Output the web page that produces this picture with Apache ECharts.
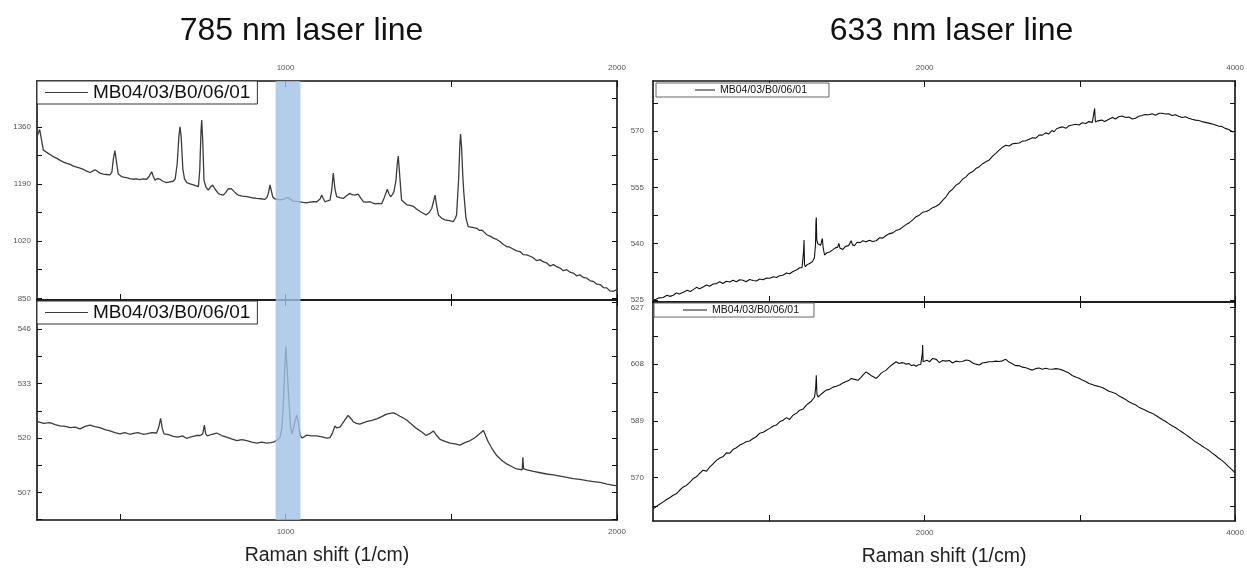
<!DOCTYPE html>
<html>
<head>
<meta charset="utf-8">
<script src="https://cdn.jsdelivr.net/npm/echarts@6/dist/echarts.min.js"></script>
<style>
html,body{margin:0;padding:0;background:#fff;}
#chart{width:1247px;height:568px;}
</style>
</head>
<body>
<div id="chart"></div>
<script>
// ---------------- DATA ----------------
const seriesName = 'MB04/03/B0/06/01';
const titles = ['785 nm laser line', '633 nm laser line'];
const xTitle = 'Raman shift (1/cm)';

// 785 nm, upper spectrum  [Raman shift, intensity]
const spec785a = [[252,1335],[258,1352],[263,1348],[269,1291],[276,1286],[284,1281],[292,1276],[299,1271],[310,1266],[320,1260],[330,1255],[340,1251],[350,1248],[360,1243],[370,1240],[380,1237],[390,1233],[400,1228],[410,1224],[418,1228],[425,1232],[432,1228],[440,1222],[450,1219],[460,1218],[470,1217],[476,1225],[480,1262],[485,1289],[490,1255],[495,1220],[502,1214],[510,1210],[520,1209],[530,1206],[540,1204],[550,1205],[560,1203],[570,1205],[581,1204],[588,1212],[596,1226],[601,1212],[606,1201],[613,1206],[621,1204],[630,1198],[641,1194],[651,1196],[661,1198],[667,1205],[673,1250],[678,1330],[681.5,1360],[685,1330],[690,1235],[695,1205],[702,1194],[712,1190],[722,1187],[730,1184],[737,1182],[741,1230],[745,1350],[747,1380],[750,1320],[754,1200],[760,1180],[767,1172],[773,1180],[780,1187],[787,1175],[797,1162],[805,1158],[812,1157],[820,1165],[826,1175],[830,1180],[836,1176],[842,1170],[850,1162],[857,1157],[870,1154],[883,1152],[898,1149],[913,1147],[925,1146],[938,1144],[944,1150],[948,1162],[953,1187],[957,1170],[961,1152],[967,1146],[973,1142],[983,1143],[993,1144],[1000,1147],[1008,1150],[1015,1144],[1023,1139],[1033,1138],[1043,1137],[1053,1135],[1063,1134],[1073,1136],[1084,1137],[1094,1137],[1099,1135],[1104,1145],[1109,1157],[1114,1146],[1119,1137],[1127,1140],[1134,1142],[1139,1170],[1144,1222],[1149,1175],[1154,1152],[1164,1149],[1174,1147],[1184,1155],[1194,1162],[1201,1158],[1209,1157],[1214,1161],[1219,1160],[1227,1148],[1235,1137],[1245,1136],[1255,1137],[1262,1134],[1270,1131],[1280,1132],[1290,1131],[1298,1150],[1307,1174],[1312,1160],[1317,1152],[1322,1158],[1327,1167],[1333,1200],[1337,1250],[1340,1273],[1344,1220],[1350,1142],[1358,1135],[1366,1128],[1376,1126],[1386,1123],[1396,1115],[1406,1108],[1415,1103],[1424,1098],[1433,1105],[1441,1117],[1447,1140],[1451,1157],[1456,1125],[1461,1098],[1471,1088],[1481,1083],[1494,1081],[1506,1078],[1512,1088],[1516,1098],[1522,1200],[1526,1310],[1528,1338],[1531,1300],[1535,1210],[1538,1162],[1544,1090],[1551,1063],[1564,1061],[1577,1058],[1584,1052],[1592,1053],[1600,1046],[1607,1039],[1617,1035],[1627,1029],[1637,1025],[1647,1019],[1657,1010],[1667,1004],[1677,1002],[1687,996],[1697,991],[1707,989],[1717,980],[1728,979],[1738,975],[1748,970],[1758,962],[1768,965],[1778,958],[1788,955],[1798,946],[1808,950],[1818,944],[1828,940],[1838,932],[1848,935],[1858,928],[1868,925],[1878,917],[1888,920],[1898,912],[1909,910],[1919,902],[1929,900],[1939,892],[1949,891],[1959,882],[1969,881],[1979,872],[1989,871],[1995,868],[2000,876]];

// 785 nm, lower spectrum
const spec785b = [[252,523.9],[270,523.5],[289,523.7],[305,523.2],[319,522.9],[335,522.8],[350,522.5],[365,522.6],[380,522.2],[395,522.8],[410,523.1],[425,522.7],[440,522.5],[455,522.0],[470,521.7],[485,521.3],[500,521.0],[515,521.3],[530,520.9],[541,521.1],[555,521.3],[570,520.9],[581,521.0],[596,521.3],[611,521.2],[617,522.5],[623,524.7],[628,522.3],[633,521.0],[647,520.8],[661,520.4],[675,520.2],[689,520.5],[702,519.9],[715,520.3],[730,520.6],[742,520.6],[750,521.0],[755,523.1],[759,521.0],[764,520.5],[778,520.9],[792,521.2],[807,520.6],[822,520.2],[837,519.8],[853,519.4],[868,519.6],[883,519.4],[898,519.0],[913,518.8],[928,519.0],[943,518.8],[955,518.9],[963,519.0],[975,519.5],[983,520.1],[989,522.5],[993,527.7],[997,536],[1001,541.9],[1005,536],[1011,527.7],[1015,522.8],[1019,521.0],[1023,522.1],[1029,524.2],[1034,525.5],[1039,523.5],[1044,520.6],[1050,520.0],[1064,520.7],[1079,520.5],[1094,520.5],[1110,520.3],[1124,520.0],[1134,520.1],[1142,521.3],[1149,522.9],[1154,522.4],[1159,522.3],[1164,522.6],[1169,522.9],[1176,524.0],[1184,524.9],[1189,525.4],[1194,525.2],[1199,524.5],[1204,523.9],[1214,523.5],[1224,523.3],[1234,523.6],[1244,523.9],[1260,524.2],[1275,524.6],[1290,525.1],[1305,525.7],[1315,525.9],[1325,526.0],[1335,525.7],[1345,525.2],[1355,524.8],[1365,524.3],[1380,523.3],[1395,522.3],[1410,521.5],[1424,520.6],[1436,521.1],[1446,521.7],[1456,520.6],[1466,519.7],[1481,519.2],[1496,518.8],[1511,518.6],[1526,518.3],[1541,518.9],[1557,519.4],[1570,520.0],[1582,520.8],[1590,521.3],[1597,521.8],[1604,520.5],[1612,519.0],[1625,517.2],[1637,515.8],[1652,514.7],[1667,513.8],[1682,513.2],[1697,512.6],[1707,512.5],[1714,512.4],[1716,515.4],[1718,512.7],[1728,512.4],[1748,512.0],[1768,511.7],[1788,511.4],[1808,511.2],[1828,510.9],[1848,510.6],[1868,510.3],[1888,510.1],[1909,509.8],[1929,509.6],[1949,509.4],[1970,509.0],[1994,508.6],[2000,508.7]];

// 633 nm, upper spectrum
const spec633a = [[252,525.0],[269,525.2],[290,525.6],[316,525.7],[340,526.3],[360,526.0],[380,526.3],[400,526.9],[420,526.6],[445,527.1],[470,527.6],[490,527.3],[509,527.8],[530,528.4],[550,528.0],[573,528.5],[595,529.0],[615,528.7],[637,529.3],[659,529.4],[680,529.9],[700,529.4],[722,530.0],[745,529.8],[765,530.3],[787,529.9],[808,530.4],[830,530.3],[850,529.9],[872,530.5],[895,530.2],[916,530.1],[938,530.6],[960,530.4],[980,530.9],[1002,530.8],[1025,531.2],[1045,531.0],[1065,531.5],[1087,531.6],[1110,532.2],[1130,532.0],[1152,532.6],[1174,533.0],[1195,533.6],[1210,533.6],[1216,533.9],[1220,538],[1223,541.0],[1226,534.5],[1232,533.9],[1245,534.5],[1262,534.8],[1276,535.2],[1290,536.2],[1297,540],[1300,546],[1302,547.0],[1305,541],[1312,540.0],[1318,539.5],[1323,539.9],[1330,539.6],[1336,540],[1341,541.4],[1346,539],[1355,537.0],[1370,537.6],[1388,537.8],[1405,538.3],[1425,538.9],[1440,539.1],[1447,540.1],[1455,538.8],[1473,538.5],[1490,539.3],[1510,539.5],[1520,539.8],[1527,540.8],[1535,539.7],[1548,539.5],[1565,540.4],[1585,540.3],[1602,540.8],[1620,540.5],[1645,540.9],[1665,540.6],[1688,540.8],[1710,541.6],[1730,541.5],[1752,542.2],[1774,542.7],[1795,542.9],[1815,543.5],[1838,543.8],[1860,544.5],[1880,545.1],[1902,545.6],[1925,546.4],[1945,547.2],[1965,547.6],[1988,548.4],[2010,548.6],[2031,549.0],[2052,549.6],[2074,550.0],[2094,550.5],[2117,551.6],[2138,552.5],[2159,553.8],[2180,554.5],[2202,555.6],[2223,556.1],[2245,557.2],[2266,557.8],[2287,558.7],[2310,559.2],[2330,560.0],[2352,560.5],[2374,561.3],[2395,561.8],[2416,562.3],[2438,563.3],[2460,564.1],[2480,564.9],[2502,565.7],[2523,566.2],[2545,566.0],[2566,566.6],[2587,566.7],[2610,566.8],[2630,567.3],[2651,567.4],[2673,567.8],[2695,568.2],[2716,568.1],[2738,568.9],[2758,568.9],[2780,569.5],[2800,569.2],[2820,570.1],[2834,569.8],[2850,570.6],[2870,570.9],[2887,571.1],[2910,570.7],[2930,571.4],[2952,571.6],[2973,571.8],[2995,571.6],[3015,572.2],[3038,572.0],[3058,572.5],[3080,572.3],[3090,572.6],[3095,576.0],[3100,572.4],[3116,572.7],[3140,572.9],[3160,572.5],[3187,573.1],[3210,573.6],[3230,573.2],[3250,573.8],[3272,574.0],[3295,573.6],[3315,573.7],[3338,573.2],[3358,573.4],[3380,573.9],[3400,574.1],[3420,574.4],[3444,574.3],[3465,574.6],[3488,574.2],[3510,574.7],[3529,574.7],[3550,574.5],[3572,574.6],[3594,574.1],[3615,574.3],[3635,573.9],[3658,573.6],[3680,573.8],[3701,573.4],[3722,573.1],[3745,572.9],[3765,572.8],[3786,572.5],[3808,572.3],[3830,572.1],[3850,571.9],[3872,571.6],[3893,571.3],[3915,571.2],[3936,570.7],[3960,570.4],[3983,569.8],[4000,569.9]];

// 633 nm, lower spectrum
const spec633b = [[252,559.6],[270,560.3],[290,561.0],[316,561.9],[335,562.6],[355,563.2],[380,564.1],[400,564.6],[420,565.7],[445,566.9],[465,567.4],[488,568.5],[509,569.7],[530,570.3],[550,571.4],[573,572.5],[595,572.2],[615,573.5],[637,574.6],[659,575.8],[680,576.6],[700,577.0],[723,578.3],[745,578.2],[765,579.4],[787,580.0],[809,580.9],[830,581.4],[850,582.0],[872,582.3],[895,583.1],[915,583.7],[938,584.9],[960,585.2],[981,585.9],[1002,586.5],[1025,587.3],[1045,587.6],[1066,588.7],[1087,589.2],[1110,590.1],[1130,589.5],[1152,590.9],[1175,591.6],[1195,592.6],[1218,593.0],[1238,594.3],[1255,595.0],[1270,595.6],[1291,597.0],[1298,600],[1302,604.3],[1306,598],[1313,597.0],[1330,597.8],[1348,598.6],[1366,599.3],[1388,599.6],[1410,600.3],[1430,600.6],[1452,601.0],[1470,601.6],[1490,602.1],[1510,602.5],[1527,603.2],[1550,602.9],[1570,602.6],[1590,603.6],[1605,604.5],[1623,605.4],[1640,604.8],[1660,604.0],[1675,603.6],[1688,603.2],[1705,604.1],[1720,605.0],[1735,605.5],[1752,606.0],[1770,606.9],[1790,607.8],[1800,608.3],[1816,608.8],[1835,608.2],[1850,608.5],[1866,608.4],[1881,608.0],[1900,608.2],[1915,607.5],[1930,607.8],[1945,607.3],[1960,607.8],[1975,607.9],[1983,608.0],[1985,611.5],[1987,614.4],[1990,608.8],[1998,608.8],[2015,609.3],[2031,608.8],[2052,609.9],[2075,609.6],[2094,608.5],[2116,609.2],[2135,609.0],[2159,609.2],[2180,608.4],[2200,609.0],[2223,608.8],[2245,608.9],[2265,609.4],[2287,609.2],[2310,608.4],[2330,608.0],[2352,607.7],[2372,608.4],[2395,608.6],[2415,608.8],[2437,608.8],[2458,609.0],[2480,608.9],[2500,609.1],[2523,609.6],[2545,608.6],[2565,608.1],[2587,607.5],[2610,607.5],[2630,607.0],[2652,606.8],[2673,606.4],[2694,606.0],[2715,606.5],[2737,606.7],[2758,606.3],[2780,606.6],[2800,606.4],[2823,606.3],[2845,606.5],[2865,606.4],[2887,606.0],[2908,605.5],[2930,605.0],[2950,604.2],[2973,603.7],[2995,603.3],[3015,602.7],[3038,602.2],[3058,601.5],[3080,601.2],[3100,600.8],[3122,600.5],[3144,600.2],[3165,599.6],[3187,598.9],[3208,598.6],[3230,598.2],[3250,597.4],[3272,596.8],[3294,596.2],[3315,595.4],[3338,594.8],[3358,594.4],[3380,593.6],[3401,593.1],[3422,592.6],[3444,592.0],[3465,591.6],[3487,590.9],[3508,590.2],[3530,589.5],[3550,588.9],[3572,588.1],[3594,587.4],[3615,586.8],[3637,586.0],[3658,585.3],[3680,584.5],[3700,583.8],[3722,582.9],[3744,582.0],[3765,581.4],[3787,580.6],[3808,579.9],[3830,579.2],[3850,578.3],[3872,577.5],[3893,576.6],[3915,575.8],[3937,574.8],[3958,573.7],[3983,572.5],[4000,571.6]];

// axis ranges, ticks and tick labels
const x785Range = [250, 2000];
const x785Ticks = [500, 1000, 1500, 2000];
const x785Labels = [1000, 2000];
const x633Range = [250, 4000];
const x633Ticks = [1000, 2000, 3000, 4000];
const x633Labels = [2000, 4000];

const y785aRange = [845, 1496];
const y785aTicks = [850, 935, 1020, 1105, 1190, 1275, 1360, 1445];
const y785aLabels = [850, 1020, 1190, 1360];
const y785bRange = [500.4, 553];
const y785bTicks = [500.5, 507, 513.5, 520, 526.5, 533, 539.5, 546, 552.5];
const y785bLabels = [507, 520, 533, 546];
const y633aRange = [524.5, 583.3];
const y633aTicks = [525, 532.5, 540, 547.5, 555, 562.5, 570, 577.5];
const y633aLabels = [525, 540, 555, 570];
const y633bRange = [555.5, 628.8];
const y633bTicks = [560.5, 570, 579.5, 589, 598.5, 608, 617.5, 627];
const y633bLabels = [570, 589, 608, 627];

const band785 = [970, 1045];

// ---------------- LAYOUT / STYLE ----------------
const FONT = '"Liberation Sans", Arial, sans-serif';
const grids = [
  {left: 37, top: 81, width: 580, height: 219},
  {left: 37, top: 300, width: 580, height: 220},
  {left: 653, top: 81, width: 583, height: 221},
  {left: 653, top: 302, width: 583, height: 219}
];
const panels = [
  {x: x785Range, xt: x785Ticks, xl: x785Labels, xlPos: 'top', y: y785aRange, yt: y785aTicks, yl: y785aLabels, data: spec785a, ylMargin: 6},
  {x: x785Range, xt: x785Ticks, xl: x785Labels, xlPos: 'bottom', y: y785bRange, yt: y785bTicks, yl: y785bLabels, data: spec785b, ylMargin: 6},
  {x: x633Range, xt: x633Ticks, xl: x633Labels, xlPos: 'top', y: y633aRange, yt: y633aTicks, yl: y633aLabels, data: spec633a, ylMargin: 9},
  {x: x633Range, xt: x633Ticks, xl: x633Labels, xlPos: 'bottom', y: y633bRange, yt: y633bTicks, yl: y633bLabels, data: spec633b, ylMargin: 9}
];

const axisLine = {show: true, onZero: false, lineStyle: {color: '#111', width: 1.6}};
const labelStyle = {fontSize: 8, color: '#555', fontFamily: FONT, formatter: v => String(v)};

const xAxis = [], yAxis = [], series = [];
panels.forEach((p, i) => {
  ['bottom', 'top'].forEach(pos => {
    const showLab = pos === p.xlPos;
    const ax = {
      type: 'value', gridIndex: i, position: pos, min: p.x[0], max: p.x[1],
      axisLine: axisLine, splitLine: {show: false},
      axisTick: {show: true, inside: true, length: 6, customValues: p.xt, lineStyle: {color: '#111', width: 1}},
      axisLabel: Object.assign({show: showLab, customValues: p.xl, margin: pos === 'top' ? 9 : 8}, labelStyle)
    };
    if (pos === 'bottom' && p.xlPos === 'bottom') {
      ax.name = xTitle; ax.nameLocation = 'middle'; ax.nameGap = 26;
      ax.nameTextStyle = {fontSize: 19.5, color: '#222', fontFamily: FONT};
    }
    xAxis.push(ax);
  });
  ['left', 'right'].forEach(pos => {
    yAxis.push({
      type: 'value', gridIndex: i, position: pos, min: p.y[0], max: p.y[1],
      axisLine: axisLine, splitLine: {show: false},
      axisTick: {show: true, inside: true, length: 5, customValues: p.yt, lineStyle: {color: '#111', width: 1}},
      axisLabel: Object.assign({show: pos === 'left', customValues: p.yl, margin: p.ylMargin}, labelStyle)
    });
  });
  series.push({
    type: 'line', name: seriesName, xAxisIndex: i * 2, yAxisIndex: i * 2,
    data: p.data, showSymbol: false, symbol: 'none', animation: false,
    lineStyle: {color: i < 2 ? '#3c3c3c' : '#111', width: i < 2 ? 1.3 : 1.1},
    itemStyle: {color: i < 2 ? '#3c3c3c' : '#111'}, z: 2
  });
});
// highlight band over the 785 nm panels
[0, 1].forEach(i => {
  series.push({
    type: 'line', name: 'band', xAxisIndex: i * 2, yAxisIndex: i * 2, data: [],
    silent: true, z: 6, animation: false,
    markArea: {silent: true, z: 10, itemStyle: {color: 'rgba(160,194,230,0.8)'},
      data: [[{xAxis: band785[0]}, {xAxis: band785[1]}]]}
  });
});

function legend(left, top, fontSize, itemW, padding, border) {
  return {
    data: [seriesName], left: left, top: top, orient: 'horizontal', selectedMode: false,
    icon: 'rect', itemWidth: itemW, itemHeight: 1.2, itemGap: 0,
    backgroundColor: '#fff', borderColor: border, borderWidth: 1, padding: padding,
    textStyle: {fontSize: fontSize, color: '#111', fontFamily: FONT}, z: 8
  };
}

const option = {
  backgroundColor: '#fff',
  animation: false,
  grid: grids.map(g => Object.assign({containLabel: false}, g)),
  xAxis: xAxis,
  yAxis: yAxis,
  legend: [
    legend(37, 81, 19, 43, [2, 7, 2, 8], '#333'),
    legend(37, 301, 19, 43, [2, 7, 2, 8], '#333'),
    legend(656, 83, 10.5, 20, [1.5, 22, 1.5, 39], '#666'),
    legend(654, 303, 10.5, 24, [1.5, 15, 1.5, 29], '#666')
  ],
  graphic: [
    {type: 'text', x: 301.5, y: 31, style: {text: titles[0], fontSize: 32, fontFamily: FONT, fill: '#111', textAlign: 'center', textVerticalAlign: 'middle'}},
    {type: 'text', x: 951.5, y: 31, style: {text: titles[1], fontSize: 32, fontFamily: FONT, fill: '#111', textAlign: 'center', textVerticalAlign: 'middle'}}
  ],
  series: series
};

const chart = echarts.init(document.getElementById('chart'), null, {renderer: 'canvas'});
chart.setOption(option);
</script>
</body>
</html>
